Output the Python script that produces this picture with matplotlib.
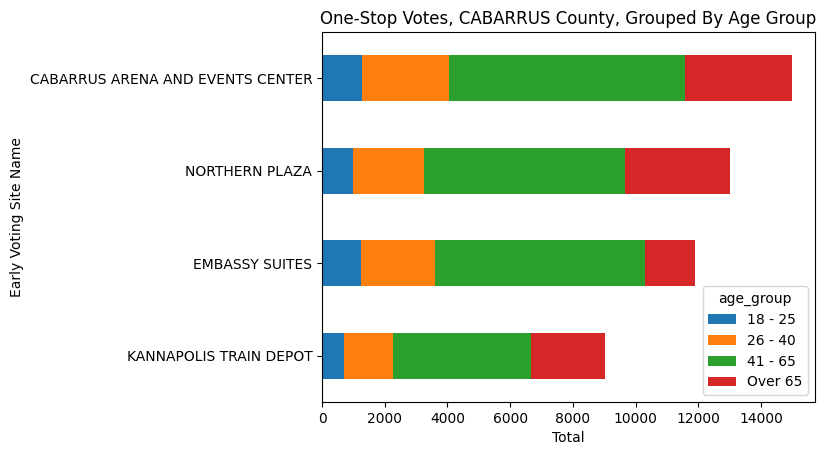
import matplotlib
matplotlib.use("Agg")
import matplotlib.pyplot as plt
import numpy as np

sites = ["KANNAPOLIS TRAIN DEPOT", "EMBASSY SUITES", "NORTHERN PLAZA",
         "CABARRUS ARENA AND EVENTS CENTER"]
age_groups = ["18 - 25", "26 - 40", "41 - 65", "Over 65"]
age_18_25 = [686, 1258, 1004, 1290]
age_26_40 = [1589, 2352, 2256, 2765]
age_41_65 = [4385, 6705, 6419, 7530]
age_over_65 = [2352, 1579, 3337, 3390]

series = [age_18_25, age_26_40, age_41_65, age_over_65]
colors = ["#1f77b4", "#ff7f0e", "#2ca02c", "#d62728"]

fig = plt.figure(figsize=(8.28, 4.55), dpi=100)
ax = fig.add_axes([0.3889, 0.1165, 0.5954, 0.8132])

y = np.arange(len(sites))
left = np.zeros(len(sites))
for name, vals, c in zip(age_groups, series, colors):
    ax.barh(y, vals, height=0.5, left=left, color=c, label=name)
    left = left + np.array(vals)

ax.set_yticks(y)
ax.set_yticklabels(sites)
ax.set_ylim(-0.5, len(sites) - 0.5)
ax.set_xlabel("Total")
ax.set_ylabel("Early Voting Site Name")
ax.set_title("One-Stop Votes, CABARRUS County, Grouped By Age Group")
ax.legend(title="age_group", loc="lower right")

fig.savefig("out.png", dpi=100)
